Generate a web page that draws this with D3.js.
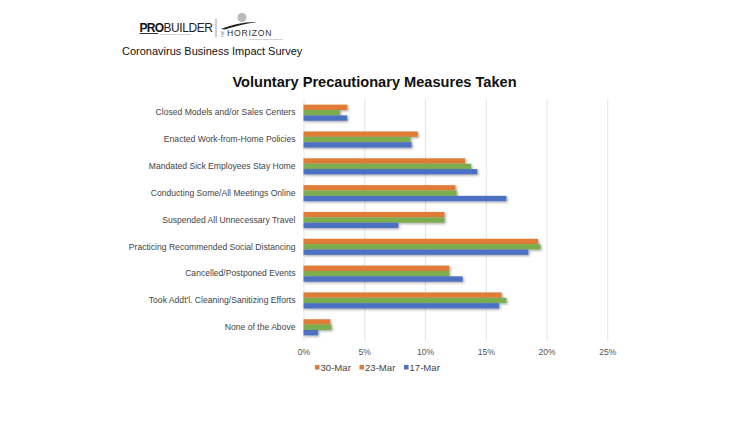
<!DOCTYPE html>
<html>
<head>
<meta charset="utf-8">
<script src="https://cdn.jsdelivr.net/npm/d3@7"></script>
<style>
  html, body { margin: 0; padding: 0; background: #fff; }
  svg { display: block; font-family: "Liberation Sans", Arial, sans-serif; }
</style>
</head>
<body>
<svg id="chart" width="750" height="422"></svg>
<script>
// ---- DATA ----
const categories = [
  "Closed Models and/or Sales Centers",
  "Enacted Work-from-Home Policies",
  "Mandated Sick Employees Stay Home",
  "Conducting Some/All Meetings Online",
  "Suspended All Unnecessary Travel",
  "Practicing Recommended Social Distancing",
  "Cancelled/Postponed Events",
  "Took Addt'l. Cleaning/Sanitizing Efforts",
  "None of the Above"
];
const seriesNames = ["30-Mar", "23-Mar", "17-Mar"];
const mar30 = [0.036, 0.094, 0.133, 0.125, 0.116, 0.193, 0.120, 0.163, 0.022];
const mar23 = [0.030, 0.088, 0.138, 0.126, 0.116, 0.195, 0.120, 0.167, 0.023];
const mar17 = [0.036, 0.089, 0.143, 0.167, 0.078, 0.185, 0.131, 0.161, 0.012];
const seriesValues = [mar30, mar23, mar17];
const tickValues = [0, 0.05, 0.10, 0.15, 0.20, 0.25];
const chartTitle = "Voluntary Precautionary Measures Taken";
const subtitle = "Coronavirus Business Impact Survey";

// ---- STYLE ----
const barColors = ["#E07B39", "#7DAE4E", "#4E71C2"];
const legendSwatch = ["#E07B39", "#E07B39", "#4E71C2"];

const svg = d3.select("#chart");

// drop shadow filter
const defs = svg.append("defs");
const f = defs.append("filter").attr("id", "shadow").attr("x", "-10%").attr("y", "-50%").attr("width", "130%").attr("height", "250%");
f.append("feDropShadow").attr("dx", 1.2).attr("dy", 1.2).attr("stdDeviation", 0.8)
  .attr("flood-color", "#000").attr("flood-opacity", 0.35);

// ---- HEADER / LOGO ----
const hdr = svg.append("g");
hdr.append("text").attr("x", 139.5).attr("y", 31.5)
  .style("font-size", "12px").style("font-weight", "900").attr("fill", "#111")
  .attr("letter-spacing", "-0.7")
  .text("PRO")
  .append("tspan").style("font-weight", "400").attr("fill", "#222").attr("letter-spacing", "-0.4").text("BUILDER");
hdr.append("line").attr("x1", 139.5).attr("x2", 158).attr("y1", 33.5).attr("y2", 33.5).attr("stroke", "#333").attr("stroke-width", 1);
hdr.append("text").attr("x", 160).attr("y", 35).style("font-size", "2.5px").attr("fill", "#888").text("PROFESSIONAL BUILDER");
hdr.append("line").attr("x1", 216).attr("x2", 216).attr("y1", 18.5).attr("y2", 37.5).attr("stroke", "#888").attr("stroke-width", 0.8);
hdr.append("circle").attr("cx", 242).attr("cy", 17.5).attr("r", 4.5).attr("fill", "#bbb");
hdr.append("path").attr("d", "M221,29 C232,24.5 245,21.5 257,22 C246,23.5 235,26 225,29.5 Z").attr("fill", "#222");
hdr.append("text").attr("transform", "translate(224,37) rotate(-90)").style("font-size", "3px").attr("fill", "#555").text("THE");
hdr.append("text").attr("x", 227).attr("y", 36.3)
  .style("font-size", "8.6px").attr("letter-spacing", "0.8").attr("fill", "#333").text("HORIZON");
hdr.append("text").attr("x", 249).attr("y", 39.5).style("font-size", "2.3px").attr("fill", "#888").text("Personalized Media for Business");
hdr.append("text").attr("x", 122).attr("y", 55)
  .style("font-size", "11px").attr("fill", "#111").text(subtitle);

// ---- TITLE ----
svg.append("text").attr("x", 374.5).attr("y", 86.5).attr("text-anchor", "middle")
  .style("font-size", "14.6px").style("font-weight", "bold").attr("fill", "#111").text(chartTitle);

// ---- SCALES ----
const x0 = 303.5, x1 = 607.3, yTop = 99.3, yBot = 340.7;
const x = d3.scaleLinear().domain([0, 0.25]).range([x0, x1]);
const y = d3.scaleBand().domain(categories).range([yTop, yBot]).paddingInner(0.4).paddingOuter(0.2);
const ySub = d3.scaleBand().domain(seriesNames).range([0, y.bandwidth()]);
const color = d3.scaleOrdinal().domain(seriesNames).range(barColors);

// gridlines
const grid = svg.append("g").attr("transform", `translate(0,${yBot})`)
  .call(d3.axisBottom(x).tickValues(tickValues).tickSize(-(yBot - yTop)).tickFormat(""));
grid.select(".domain").remove();
grid.selectAll("line").attr("stroke", "#e3e3e3").attr("stroke-width", 1);

// x axis labels
const xa = svg.append("g").attr("transform", `translate(0,${yBot})`)
  .call(d3.axisBottom(x).tickValues(tickValues).tickSize(0).tickPadding(8).tickFormat(d3.format(".0%")));
xa.select(".domain").remove();
xa.selectAll("text").attr("fill", "#555").style("font-size", "8.6px").style("font-family", "Liberation Sans, Arial, sans-serif");

// category labels
const ya = svg.append("g").attr("transform", `translate(${x0},0)`)
  .call(d3.axisLeft(y).tickSize(0).tickPadding(8));
ya.select(".domain").remove();
ya.selectAll("text").attr("fill", "#444").style("font-size", "8.6px").style("font-family", "Liberation Sans, Arial, sans-serif");

// bars
const groups = svg.append("g").selectAll("g").data(categories).join("g")
  .attr("transform", d => `translate(0,${y(d)})`);
groups.selectAll("rect")
  .data((d, i) => seriesNames.map((s, j) => ({ s, v: seriesValues[j][i] })))
  .join("rect")
  .attr("x", x(0))
  .attr("y", d => ySub(d.s))
  .attr("width", d => x(d.v) - x(0))
  .attr("height", ySub.bandwidth())
  .attr("fill", d => color(d.s))
  .attr("filter", "url(#shadow)");

// legend
const leg = svg.append("g");
const legX = [315, 359.5, 404];
const li = leg.selectAll("g").data(seriesNames).join("g")
  .attr("transform", (d, i) => `translate(${legX[i]},368)`);
li.append("rect").attr("x", 0).attr("y", -3).attr("width", 4.5).attr("height", 4.5)
  .attr("fill", (d, i) => legendSwatch[i]);
li.append("text").attr("x", 5.5).attr("y", 3.3).style("font-size", "9.6px").attr("fill", "#444").text(d => d);
</script>
</body>
</html>
